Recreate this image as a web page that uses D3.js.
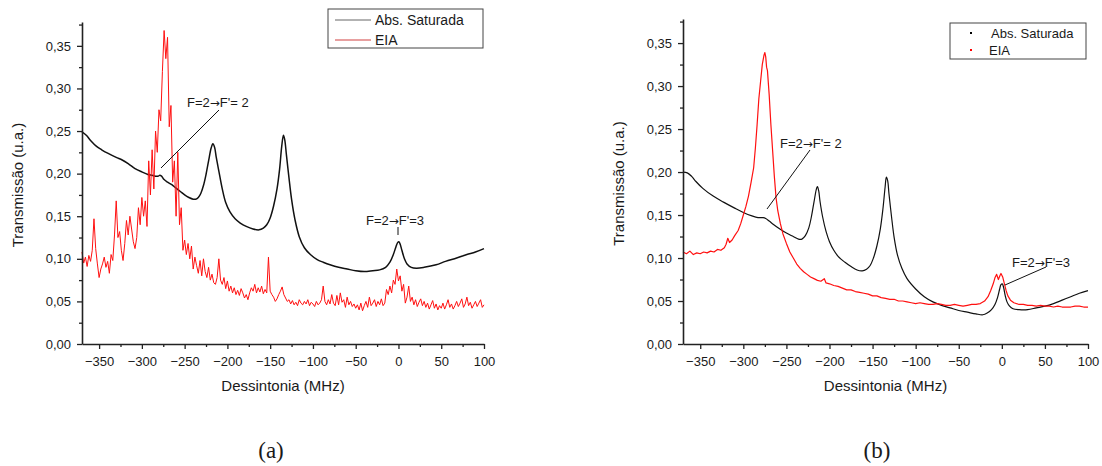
<!DOCTYPE html>
<html><head><meta charset="utf-8">
<script src="https://cdn.jsdelivr.net/npm/d3@7"></script>
<style>
body{margin:0;background:#fff;}
svg text{font-family:"Liberation Sans",Arial,sans-serif;fill:#1a1a1a;}
</style></head>
<body><svg id="c" width="1102" height="466"></svg>
<script>
// ---------- DATA ----------
const yTicks = [0, 0.05, 0.10, 0.15, 0.20, 0.25, 0.30, 0.35];
const yMinor = [0.025, 0.075, 0.125, 0.175, 0.225, 0.275, 0.325, 0.375];
const xTicks = [-350, -300, -250, -200, -150, -100, -50, 0, 50, 100];
const xMinor = [-325, -275, -225, -175, -125, -75, -25, 25, 75];
const seriesNames = ["Abs. Saturada", "EIA"];

// (a) Saturated absorption
const absAX = [-370,-365,-360,-353,-347,-340,-330,-323,-315,-308,-300,-293,-288,-284,-281,-279,-277,-274,-270,-265,-260,-255,-250,-245,-240,-237,-234,-231,-228,-225,-222,-219,-217,-215,-213,-210,-206,-202,-197,-191,-185,-178,-170,-163,-158,-154,-150,-146,-142,-139,-136.5,-134.5,-133,-131,-128,-125,-121,-116,-110,-103,-95,-88,-80,-70,-60,-50,-40,-30,-22,-15,-10,-6,-3,-1,0.5,2,4,7,10,15,21,30,44,55,68,80,90,100];
const absAY = [0.249,0.245,0.239,0.232,0.228,0.224,0.219,0.216,0.211,0.206,0.202,0.199,0.198,0.197,0.197,0.198,0.197,0.193,0.190,0.187,0.183,0.179,0.175,0.172,0.170,0.170,0.172,0.177,0.186,0.199,0.215,0.230,0.235,0.231,0.219,0.203,0.182,0.166,0.155,0.147,0.142,0.138,0.135,0.134,0.136,0.140,0.148,0.162,0.182,0.205,0.232,0.245,0.240,0.222,0.195,0.170,0.146,0.126,0.113,0.105,0.099,0.096,0.093,0.090,0.088,0.086,0.085,0.086,0.087,0.090,0.096,0.105,0.114,0.119,0.120,0.117,0.110,0.100,0.094,0.090,0.089,0.090,0.093,0.097,0.101,0.105,0.108,0.112];

// (a) EIA, sampled every 2 MHz from -370 to 100
const eiaAStart = -370, eiaAStep = 2;
const eiaAY = [
0.108,0.095,0.102,0.091,0.104,0.097,0.110,0.147,0.112,0.094,
0.078,0.088,0.094,0.102,0.090,0.097,0.083,0.105,0.098,0.128,
0.168,0.125,0.132,0.110,0.098,0.118,0.145,0.128,0.150,0.135,
0.120,0.112,0.125,0.160,0.140,0.172,0.150,0.168,0.138,0.215,
0.175,0.228,0.182,0.250,0.225,0.275,0.262,0.320,0.368,0.335,
0.360,0.255,0.280,0.190,0.215,0.150,0.225,0.140,0.160,0.110,
0.122,0.105,0.118,0.100,0.115,0.088,0.102,0.092,0.083,0.098,
0.080,0.100,0.085,0.078,0.090,0.075,0.082,0.072,0.070,0.078,
0.100,0.075,0.070,0.078,0.065,0.074,0.062,0.068,0.060,0.066,
0.058,0.063,0.057,0.065,0.060,0.054,0.058,0.052,0.060,0.066,
0.062,0.070,0.060,0.066,0.061,0.068,0.059,0.064,0.060,0.102,
0.062,0.058,0.055,0.050,0.053,0.058,0.062,0.067,0.058,0.054,
0.050,0.052,0.047,0.051,0.046,0.049,0.045,0.052,0.048,0.046,
0.050,0.047,0.052,0.045,0.049,0.047,0.044,0.050,0.046,0.048,
0.052,0.068,0.050,0.046,0.052,0.047,0.058,0.048,0.045,0.057,
0.046,0.060,0.049,0.052,0.043,0.055,0.046,0.050,0.044,0.047,
0.042,0.046,0.040,0.048,0.039,0.045,0.050,0.043,0.055,0.045,
0.048,0.052,0.044,0.050,0.046,0.053,0.045,0.048,0.064,0.058,
0.068,0.060,0.075,0.070,0.088,0.074,0.080,0.062,0.070,0.048,
0.055,0.068,0.050,0.055,0.046,0.052,0.044,0.049,0.053,0.045,
0.050,0.043,0.048,0.041,0.046,0.051,0.042,0.047,0.040,0.045,
0.042,0.048,0.041,0.046,0.052,0.043,0.047,0.041,0.045,0.050,
0.044,0.048,0.053,0.043,0.047,0.055,0.045,0.049,0.042,0.046,
0.050,0.044,0.048,0.052,0.043,0.046];

// (b) Saturated absorption
const absBX = [-370,-365,-360,-355,-347,-335,-323,-310,-300,-290,-283,-277,-274,-270,-265,-258,-250,-242,-236,-232,-228,-224,-221,-218,-215,-214,-212.5,-211,-208,-204,-200,-195,-190,-182,-175,-168,-162,-157,-153,-149,-145,-141,-138,-135.5,-134,-132.5,-131,-128,-125,-121,-116,-110,-100,-90,-80,-70,-60,-50,-40,-30,-22,-17,-12,-8,-5,-2.5,-1,0.5,2,4,6,9,13,20,30,40,50,60,70,80,90,100];
const absBY = [0.200,0.199,0.195,0.189,0.181,0.172,0.165,0.158,0.153,0.149,0.147,0.147,0.146,0.143,0.139,0.134,0.129,0.125,0.122,0.122,0.126,0.135,0.148,0.165,0.181,0.183,0.178,0.166,0.148,0.131,0.119,0.109,0.102,0.095,0.090,0.086,0.085,0.087,0.091,0.100,0.114,0.134,0.157,0.182,0.194,0.190,0.175,0.148,0.124,0.103,0.088,0.076,0.064,0.055,0.049,0.045,0.042,0.039,0.037,0.035,0.034,0.036,0.040,0.046,0.054,0.064,0.069,0.070,0.066,0.056,0.049,0.044,0.041,0.040,0.040,0.042,0.044,0.047,0.051,0.055,0.059,0.062];

// (b) EIA
const eiaBX = [-370,-366,-362,-358,-354,-350,-346,-342,-338,-334,-330,-326,-322,-320,-318,-316,-313,-310,-306,-303,-300,-297,-294,-291,-288,-286,-284,-282,-280,-278,-276,-275,-274,-273,-272,-270,-268,-266,-264,-262,-260,-257,-254,-250,-246,-242,-238,-234,-230,-226,-222,-218,-214,-210,-206,-204,-200,-195,-190,-185,-180,-175,-170,-165,-160,-155,-150,-145,-140,-135,-130,-125,-120,-115,-110,-105,-100,-95,-90,-85,-80,-75,-70,-65,-60,-55,-50,-45,-40,-35,-30,-25,-20,-16,-13,-10,-8,-6,-5,-4,-2,-1,1,3,5,7,10,14,20,25,30,35,40,45,50,55,60,65,70,75,80,85,90,95,100];
const eiaBY = [0.107,0.105,0.108,0.104,0.106,0.105,0.107,0.106,0.108,0.107,0.110,0.109,0.112,0.116,0.123,0.118,0.121,0.126,0.132,0.140,0.150,0.160,0.172,0.188,0.205,0.228,0.255,0.285,0.305,0.325,0.336,0.339,0.334,0.322,0.318,0.290,0.255,0.225,0.195,0.170,0.155,0.140,0.128,0.117,0.107,0.100,0.093,0.088,0.084,0.081,0.078,0.076,0.074,0.073,0.076,0.071,0.070,0.068,0.067,0.065,0.063,0.063,0.061,0.060,0.059,0.058,0.056,0.056,0.054,0.053,0.052,0.052,0.050,0.050,0.049,0.048,0.047,0.048,0.047,0.046,0.046,0.047,0.046,0.045,0.045,0.046,0.045,0.044,0.045,0.046,0.046,0.047,0.050,0.055,0.062,0.070,0.077,0.081,0.078,0.075,0.080,0.082,0.078,0.070,0.062,0.056,0.051,0.048,0.046,0.046,0.045,0.045,0.044,0.045,0.044,0.044,0.043,0.044,0.043,0.043,0.043,0.044,0.044,0.043,0.043];

const annoParts22 = ["F=2", "\u2192", "F'= 2"];
const annoParts23 = ["F=2", "\u2192", "F'=3"];
const captions = ["(a)", "(b)"];

// ---------- DRAW ----------
const svg = d3.select("#c");
const comma = v => d3.format(".2f")(v).replace(".", ",");
const absA = absAX.map((x,i)=>[x,absAY[i]]);
const eiaA = eiaAY.map((y,i)=>[eiaAStart+i*eiaAStep,y]);
const absB = absBX.map((x,i)=>[x,absBY[i]]);
const eiaB = eiaBX.map((x,i)=>[x,eiaBY[i]]);

function panel(cfg){
  const x = d3.scaleLinear().domain([-370,100]).range([cfg.x0,cfg.x1]);
  const y = d3.scaleLinear().domain([0,0.378]).range([344,cfg.yTop]);
  const g = svg.append("g");
  // curves
  g.append("path").attr("fill","none").attr("stroke","#111")
    .attr("stroke-width",cfg.absW)
    .attr("d",d3.line().x(d=>x(d[0])).y(d=>y(d[1])).curve(d3.curveCatmullRom)(cfg.abs));
  g.append("path").attr("fill","none").attr("stroke","#ff1010")
    .attr("stroke-width",cfg.eiaW).attr("stroke-linejoin","round")
    .attr("d",d3.line().x(d=>x(d[0])).y(d=>y(d[1]))(cfg.eia));

  // axes
  g.append("g").attr("transform","translate(0,344)")
    .call(d3.axisBottom(x).tickValues(xTicks).tickSize(5).tickSizeOuter(0).tickPadding(8).tickFormat(d3.format("d")));
  g.append("g").attr("transform","translate(0,344)")
    .call(d3.axisBottom(x).tickValues(xMinor).tickSize(3).tickSizeOuter(0).tickFormat(""))
    .select(".domain").remove();
  g.append("g").attr("transform",`translate(${cfg.x0},0)`)
    .call(d3.axisLeft(y).tickValues(yTicks).tickSize(5).tickSizeOuter(0).tickPadding(6).tickFormat(comma));
  g.append("g").attr("transform",`translate(${cfg.x0},0)`)
    .call(d3.axisLeft(y).tickValues(yMinor).tickSize(3).tickSizeOuter(0).tickFormat(""))
    .select(".domain").remove();
  g.selectAll(".domain").attr("stroke","#222").attr("stroke-width",1.6);
  g.selectAll(".tick line").attr("stroke","#222").attr("stroke-width",1.3);
  g.selectAll(".tick text").attr("font-size",13).attr("font-family","Liberation Sans, Arial, sans-serif").attr("fill","#1a1a1a");

  // axis titles
  g.append("text").attr("x",(cfg.x0+cfg.x1)/2).attr("y",391).attr("text-anchor","middle")
    .attr("font-size",15).text("Dessintonia (MHz)");
  g.append("text").attr("transform",`translate(${cfg.ytx},${(344+cfg.yTop)/2 + 2}) rotate(-90)`)
    .attr("text-anchor","middle").attr("dy","0.35em").attr("font-size",15).text("Transmissão (u.a.)");

  // annotations
  cfg.annos.forEach(a=>{
    const t = g.append("text").attr("x",a.tx).attr("y",a.ty).attr("font-size",13);
    t.append("tspan").text(a.t[0]);
    t.append("tspan").style("font-family","'DejaVu Sans',sans-serif").attr("font-size",12).text(a.t[1]);
    t.append("tspan").text(a.t[2]);
    g.append("line").attr("x1",a.l[0]).attr("y1",a.l[1]).attr("x2",a.l[2]).attr("y2",a.l[3])
      .attr("stroke","#111").attr("stroke-width",1);
  });

  // legend
  const L = cfg.leg;
  g.append("rect").attr("x",L.x).attr("y",L.y).attr("width",L.w).attr("height",L.h)
    .attr("fill","#fff").attr("stroke","#444").attr("stroke-width",1);
  seriesNames.forEach((n,i)=>{
    const yy = L.y + L.rows[i];
    const col = i===0 ? "#666" : "#d04040";
    if (L.dots){
      g.append("rect").attr("x",L.mx-1).attr("y",yy-1).attr("width",2).attr("height",2).attr("fill",i===0?"#000":"#f00");
    } else {
      g.append("line").attr("x1",L.mx-18).attr("x2",L.mx+18).attr("y1",yy).attr("y2",yy).attr("stroke",col).attr("stroke-width",1);
    }
    g.append("text").attr("x",L.tx[i]).attr("y",yy).attr("dy","0.36em").attr("font-size",L.fs).text(n);
  });

  // caption
  svg.append("text").attr("x",cfg.cap[0]).attr("y",cfg.cap[1]).attr("text-anchor","middle")
    .style("font-family","'Liberation Serif','DejaVu Serif',serif")
    .attr("font-size",23).text(cfg.capText);
}

panel({x0:82,x1:484,yTop:22,abs:absA,eia:eiaA,absW:1.5,eiaW:1,ytx:18,
  annos:[{t:annoParts22,tx:187,ty:107,l:[219,110,161,168]},{t:annoParts23,tx:366,ty:225,l:[398,227,398,235]}],
  leg:{x:328,y:9,w:155,h:39,mx:353,tx:[375,375],rows:[11,31],fs:14,dots:false},
  cap:[271,458],capText:captions[0]});
panel({x0:683,x1:1088,yTop:19,abs:absB,eia:eiaB,absW:1.2,eiaW:1.2,ytx:619,
  annos:[{t:annoParts22,tx:780,ty:148,l:[810,150,767,209]},{t:annoParts23,tx:1012,ty:267,l:[1046,267,1005,285]}],
  leg:{x:950,y:23,w:136,h:36,mx:971,tx:[991,989],rows:[10,27],fs:13,dots:true},
  cap:[877,458],capText:captions[1]});
</script></body></html>
